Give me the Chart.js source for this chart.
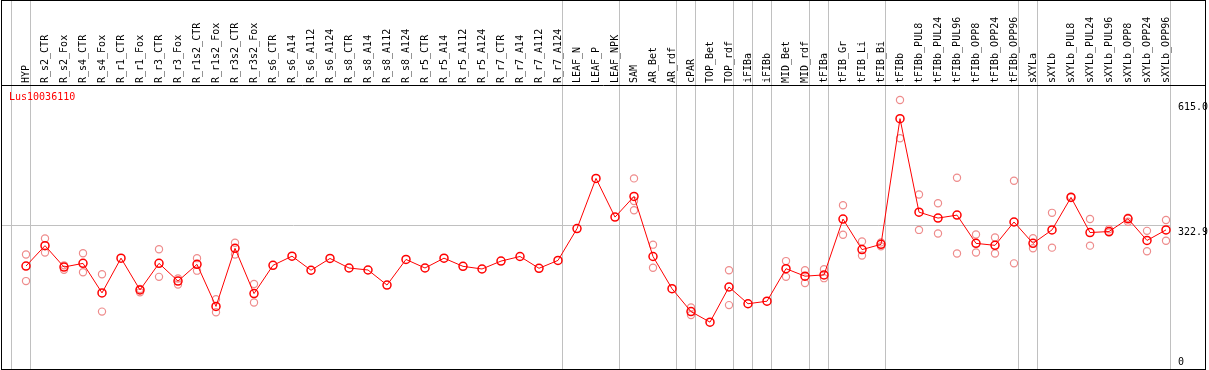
<!DOCTYPE html>
<html>
<head>
<meta charset="utf-8">
<title>Lus10036110</title>
<script src="https://cdn.jsdelivr.net/npm/chart.js@4.4.1/dist/chart.umd.min.js"></script>
<style>
  body { margin: 0; background: #fff; }
  #wrap { width: 1209px; height: 370px; }
</style>
</head>
<body>
<div id="wrap"><canvas id="expr-chart"></canvas></div>
<script>
const geneName = "Lus10036110";

const categories = [
  "HYP", "R_s2_CTR", "R_s2_Fox", "R_s4_CTR", "R_s4_Fox", "R_r1_CTR", "R_r1_Fox", "R_r3_CTR", "R_r3_Fox",
  "R_r1s2_CTR", "R_r1s2_Fox", "R_r3s2_CTR", "R_r3s2_Fox", "R_s6_CTR", "R_s6_A14", "R_s6_A112", "R_s6_A124",
  "R_s8_CTR", "R_s8_A14", "R_s8_A112", "R_s8_A124", "R_r5_CTR", "R_r5_A14", "R_r5_A112", "R_r5_A124",
  "R_r7_CTR", "R_r7_A14", "R_r7_A112", "R_r7_A124", "LEAF_N", "LEAF_P", "LEAF_NPK", "SAM", "AR_Bet", "AR_rdf",
  "cPAR", "TOP_Bet", "TOP_rdf", "iFIBa", "iFIBb", "MID_Bet", "MID_rdf", "tFIBa", "tFIB_Gr", "tFIB_Li", "tFIB_Bi",
  "tFIBb", "tFIBb_PUL8", "tFIBb_PUL24", "tFIBb_PUL96", "tFIBb_OPP8", "tFIBb_OPP24", "tFIBb_OPP96",
  "sXYLa", "sXYLb", "sXYLb_PUL8", "sXYLb_PUL24", "sXYLb_PUL96", "sXYLb_OPP8", "sXYLb_OPP24", "sXYLb_OPP96"
];

// mean expression per sample
const meanValues = [
  229.0, 276.4, 226.7, 235.2, 166.5, 247.3, 173.4, 235.2, 194.0, 232.9, 135.1, 270.2, 164.9,
  230.6, 251.9, 219.2, 246.6, 224.4, 219.8, 184.8, 244.3, 224.4, 247.3, 228.3, 222.1, 240.5, 251.2, 223.7, 242.1,
  316.0, 432.8, 342.8, 390.9, 251.2, 176.3, 123.0, 98.5, 180.2, 141.3, 147.2, 222.8, 205.4, 208.4, 338.2, 267.2, 279.4,
  571.8, 354.3, 340.5, 347.4, 281.7, 277.1, 331.4, 281.7, 313.0, 388.6, 306.9, 309.2, 338.9, 288.5, 313.0
];

// replicates
const repHigh = [
  255.8, 293.1, 230.6, 258.8, 210.0, null, 175.6, 267.9, 199.9, 247.3, 151.8, 283.3, 187.1,
  null, null, null, null, null, null, null, null, null, null, null, null, null, null, null, null,
  null, null, null, 432.8, 278.7, null, 132.8, null, 219.2, null, null, 240.5, 219.2, 221.4, 370.3, 286.3, 284.0,
  615.0, 395.5, 374.9, 434.4, 302.3, 295.4, 427.5, 293.8, 352.7, 390.9, 338.2, 314.4, 341.2, 310.8, 335.9
];
const repLow = [
  194.0, 260.4, 220.5, 214.6, 123.0, null, 167.9, 203.8, 186.2, 218.2, 121.4, 255.8, 144.3,
  null, null, null, null, null, null, null, null, null, null, null, null, null, null, null, null,
  null, null, null, 358.8, 225.1, null, 115.2, null, 138.1, null, null, 203.8, 189.4, 200.8, 301.6, 253.5, 274.8,
  526.0, 313.0, 304.6, 258.1, 260.4, 258.1, 235.2, 270.2, 271.8, null, 276.4, 306.9, 332.1, 263.4, 287.9
];
const repExtra = [{ x: "SAM", y: 380.1 }];

const yTicks = [0, 322.9, 615.0];
// index of the last sample in each tissue group (-1 = left edge)
const groupBreaks = [-1, 0, 28, 31, 34, 35, 37, 38, 39, 41, 42, 45, 52, 53, 60];

document.addEventListener("DOMContentLoaded", () => {
  const font = "10px 'DejaVu Sans Mono'";

  const framePlugin = {
    id: "frame",
    beforeDatasetsDraw(chart) {
      const { ctx, scales: { x, y } } = chart;
      const step = x.getPixelForValue(1) - x.getPixelForValue(0);
      const x0 = x.getPixelForValue(0);
      ctx.save();
      ctx.strokeStyle = "#c0c0c0";
      ctx.lineWidth = 1;
      let lastX = 0;
      groupBreaks.forEach((k) => {
        const px = Math.floor(x0 + (k + 0.23) * step) + 0.5;
        lastX = px;
        ctx.beginPath();
        ctx.moveTo(px, 0);
        ctx.lineTo(px, chart.height);
        ctx.stroke();
      });
      const gy = Math.floor(y.getPixelForValue(yTicks[1])) + 0.5;
      ctx.beginPath();
      ctx.moveTo(1, gy);
      ctx.lineTo(lastX, gy);
      ctx.stroke();
      ctx.restore();
    },
    afterDraw(chart) {
      const { ctx, scales: { y } } = chart;
      ctx.save();
      ctx.font = font;
      ctx.textBaseline = "top";
      ctx.fillStyle = "#000";
      yTicks.forEach((v) => {
        const py = y.getPixelForValue(v);
        const top = Math.min(py + 2, chart.height - 13);
        ctx.fillText(v === 0 ? "0" : v.toFixed(1), 1178, top);
      });
      ctx.textBaseline = "middle";
      ctx.fillStyle = "#ff0000";
      ctx.fillText(geneName, 9, 97);

      // outer box + header line
      ctx.strokeStyle = "#000";
      ctx.lineWidth = 1;
      ctx.strokeRect(1.5, 0.5, 1204, 369);
      ctx.beginPath();
      ctx.moveTo(1, 85.5);
      ctx.lineTo(1206, 85.5);
      ctx.stroke();
      ctx.restore();
    }
  };

  const repStyle = {
    showLine: false,
    borderColor: "rgb(238,140,140)",
    backgroundColor: "rgba(0,0,0,0)",
    pointStyle: "circle",
    pointRadius: 3.6,
    pointBorderWidth: 1.2,
    clip: false,
    order: 1
  };

  new Chart(document.getElementById("expr-chart"), {
    type: "line",
    data: {
      labels: categories,
      datasets: [
        {
          label: "mean",
          data: meanValues,
          borderColor: "#ff0000",
          borderWidth: 1,
          backgroundColor: "rgba(0,0,0,0)",
          pointRadius: 4,
          pointBorderWidth: 1.5,
          tension: 0,
          clip: false,
          order: 0
        },
        { label: "rep1", data: repHigh, ...repStyle },
        { label: "rep2", data: repLow, ...repStyle },
        { label: "rep3", data: repExtra, ...repStyle }
      ]
    },
    options: {
      responsive: true,
      maintainAspectRatio: false,
      animation: false,
      layout: { padding: { left: 26, right: 43, top: 0, bottom: 1 } },
      plugins: { legend: { display: false }, tooltip: { enabled: false } },
      scales: {
        x: {
          position: "top",
          grid: { display: false, drawTicks: false },
          border: { display: false },
          ticks: {
            autoSkip: false,
            minRotation: 90,
            maxRotation: 90,
            padding: 2,
            labelOffset: 12,
            color: "#000",
            font: { family: "DejaVu Sans Mono", size: 10 }
          },
          afterFit: (s) => { s.height = 85; }
        },
        y: {
          display: false,
          min: 0,
          max: 650
        }
      }
    },
    plugins: [framePlugin]
  });
});
</script>
</body>
</html>
